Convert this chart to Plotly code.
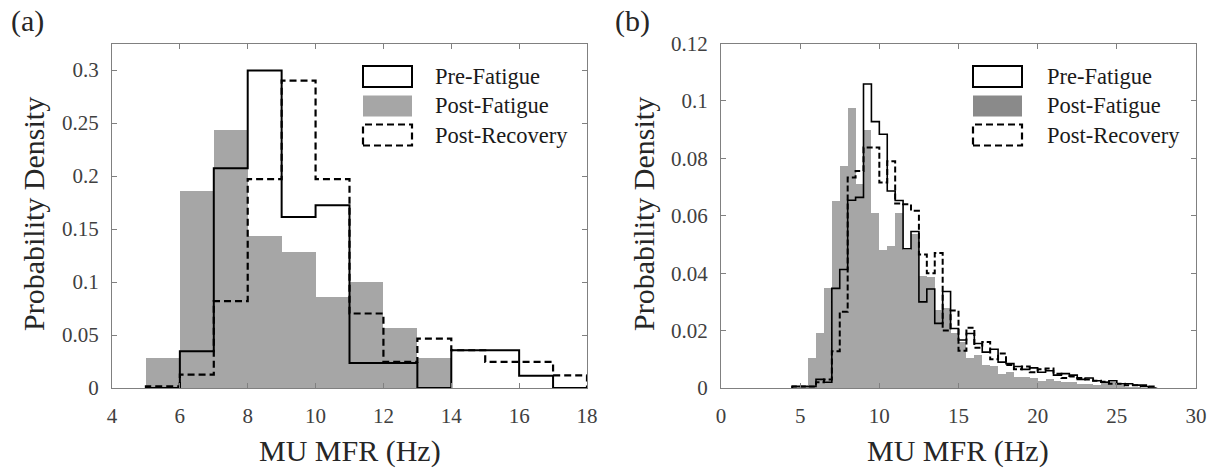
import numpy as np
import plotly.graph_objects as go

W, H = 1226, 473
FONT = "Liberation Serif"

# ---------------- data: panel (a) ----------------
a_edges = [5, 6, 7, 8, 9, 10, 11, 12, 13, 14, 15, 16, 17, 18]
a_pre = [0.0, 0.0346, 0.2072, 0.2995, 0.1614, 0.1725, 0.0236, 0.0236, 0.0, 0.0356, 0.0356, 0.0116, 0.0]
a_post = [0.0284, 0.186, 0.2434, 0.1434, 0.1283, 0.0861, 0.0999, 0.0568, 0.0284, 0.0, 0.0, 0.0, 0.0]
a_rec = [0.0016, 0.0126, 0.082, 0.197, 0.29, 0.197, 0.0703, 0.0246, 0.0466, 0.0356, 0.0246, 0.0246, 0.012]
a_xticks = [4, 6, 8, 10, 12, 14, 16, 18]
a_yticks = [0, 0.05, 0.1, 0.15, 0.2, 0.25, 0.3]
a_ylabels = ["0", "0.05", "0.1", "0.15", "0.2", "0.25", "0.3"]

# ---------------- data: panel (b) ----------------
b_first_edge = 4.5
b_bin_width = 0.5
b_pre = [0.0005, 0.0005, 0.0005, 0.003, 0.002, 0.0347, 0.0413, 0.0654, 0.0664, 0.1059,
         0.0928, 0.0884, 0.0686, 0.0653, 0.0485, 0.0545, 0.030, 0.0345, 0.0225, 0.0336,
         0.0207, 0.0167, 0.019, 0.0155, 0.0125, 0.0135, 0.009, 0.0085, 0.0075, 0.0065,
         0.007, 0.0055, 0.006, 0.0045, 0.005, 0.0045, 0.003, 0.0035, 0.0025, 0.002,
         0.0025, 0.0015, 0.0015, 0.001, 0.0005, 0.0]
b_post = [0.001, 0.001, 0.0103, 0.0193, 0.035, 0.065, 0.0772, 0.0976, 0.071, 0.0899,
          0.0609, 0.0482, 0.0495, 0.0609, 0.048, 0.0535, 0.039, 0.0385, 0.027, 0.028,
          0.019, 0.016, 0.0105, 0.0115, 0.008, 0.0075, 0.005, 0.0055, 0.004, 0.004,
          0.0035, 0.0025, 0.003, 0.0025, 0.002, 0.002, 0.0015, 0.0015, 0.001, 0.0025,
          0.0022, 0.001, 0.0005, 0.0005, 0.0, 0.0]
b_rec = [0.0005, 0.0005, 0.0005, 0.002, 0.003, 0.0128, 0.0266, 0.0733, 0.0756, 0.0838,
         0.0838, 0.0716, 0.079, 0.0643, 0.064, 0.0617, 0.0465, 0.040, 0.047, 0.02,
         0.027, 0.013, 0.021, 0.014, 0.016, 0.010, 0.012, 0.008, 0.0065, 0.0075,
         0.0055, 0.0065, 0.0068, 0.005, 0.0035, 0.004, 0.0035, 0.003, 0.0025, 0.0022,
         0.0015, 0.0015, 0.001, 0.001, 0.001, 0.0005]
b_xticks = [0, 5, 10, 15, 20, 25, 30]
b_yticks = [0, 0.02, 0.04, 0.06, 0.08, 0.1, 0.12]
b_ylabels = ["0", "0.02", "0.04", "0.06", "0.08", "0.1", "0.12"]

legend_names = ["Pre-Fatigue", "Post-Fatigue", "Post-Recovery"]

GRAY = "#a6a6a6"
AXC = "#808080"
TXT = "#404040"


def stairs(edges, vals):
    e = np.asarray(edges, dtype=float)
    v = np.asarray(vals, dtype=float)
    xs = np.concatenate([[e[0]], e[:-1], [e[-1]]])
    ys = np.concatenate([[0.0], v, [0.0]])
    return xs, ys


b_edges = b_first_edge + b_bin_width * np.arange(len(b_pre) + 1)

fig = go.Figure()

# panel (a)
ae = np.asarray(a_edges, dtype=float)
fig.add_trace(go.Bar(x=(ae[:-1] + ae[1:]) / 2, y=a_post, width=np.diff(ae),
                     marker=dict(color=GRAY, line=dict(width=0)),
                     xaxis="x", yaxis="y", showlegend=False))
xs, ys = stairs(a_edges, a_pre)
fig.add_trace(go.Scatter(x=xs, y=ys, mode="lines", line=dict(shape="hv", color="black", width=2),
                         xaxis="x", yaxis="y", showlegend=False))
xs, ys = stairs(a_edges, a_rec)
fig.add_trace(go.Scatter(x=xs, y=ys, mode="lines",
                         line=dict(shape="hv", color="black", width=2.2, dash="7px,4px"),
                         xaxis="x", yaxis="y", showlegend=False))

# panel (b)
fig.add_trace(go.Bar(x=(b_edges[:-1] + b_edges[1:]) / 2, y=b_post, width=np.diff(b_edges),
                     marker=dict(color=GRAY, line=dict(width=0)),
                     xaxis="x2", yaxis="y2", showlegend=False))
xs, ys = stairs(b_edges, b_pre)
fig.add_trace(go.Scatter(x=xs, y=ys, mode="lines", line=dict(shape="hv", color="black", width=1.6),
                         xaxis="x2", yaxis="y2", showlegend=False))
xs, ys = stairs(b_edges, b_rec)
fig.add_trace(go.Scatter(x=xs, y=ys, mode="lines",
                         line=dict(shape="hv", color="black", width=2, dash="6px,3px"),
                         xaxis="x2", yaxis="y2", showlegend=False))

# layout geometry (page pixels)
A_L, A_R = 112, 587
B_L, B_R = 721, 1196
TOP, BOT = 43.5, 388


def px(x):
    return x / W


def py(y):
    return 1 - y / H


axis_common = dict(showline=True, linecolor=AXC, linewidth=1, mirror="ticks",
                   ticks="inside", ticklen=5, tickcolor=AXC, tickwidth=1,
                   showgrid=False, zeroline=False, automargin=False,
                   tickfont=dict(family=FONT, size=21, color=TXT))

fig.update_layout(
    width=W, height=H, autosize=False,
    margin=dict(l=0, r=0, t=0, b=0, pad=0),
    paper_bgcolor="white", plot_bgcolor="white",
    bargap=0, barmode="overlay", hovermode=False,
    xaxis=dict(domain=[px(A_L), px(A_R)], range=[4, 18], tickvals=a_xticks,
               ticklabelstandoff=9, anchor="y", **axis_common),
    yaxis=dict(domain=[py(BOT), py(TOP)], range=[0, 0.325], tickvals=a_yticks,
               ticktext=a_ylabels, ticklabelstandoff=8, anchor="x", **axis_common),
    xaxis2=dict(domain=[px(B_L), px(B_R)], range=[0, 30], tickvals=b_xticks,
                ticklabelstandoff=9, anchor="y2", **axis_common),
    yaxis2=dict(domain=[py(BOT), py(TOP)], range=[0, 0.12], tickvals=b_yticks,
                ticktext=b_ylabels, ticklabelstandoff=8, anchor="x2", **axis_common),
)

annotations = []
shapes = []

# axis titles and panel labels
for cx in [(A_L + A_R) / 2, (B_L + B_R) / 2]:
    annotations.append(dict(text="MU MFR (Hz)", x=px(cx), y=py(451), xref="paper", yref="paper",
                            showarrow=False, xanchor="center", yanchor="middle",
                            font=dict(family=FONT, size=30, color="#262626")))
for cx in [33, 643]:
    annotations.append(dict(text="Probability Density", x=px(cx), y=py(214), xref="paper",
                            yref="paper", showarrow=False, textangle=-90,
                            xanchor="center", yanchor="middle",
                            font=dict(family=FONT, size=30, color="#262626")))
for lab, cx in [("(a)", 27), ("(b)", 632)]:
    annotations.append(dict(text=lab, x=px(cx), y=py(21), xref="paper", yref="paper",
                            showarrow=False, xanchor="center", yanchor="middle",
                            font=dict(family=FONT, size=30, color="#262626")))

# legends drawn as patches + text
row_tops = [66, 95.5, 124.5]
patch_h = 21
for patch_l, text_l, post_col in [(363, 433, GRAY), (973, 1045, "#8a8a8a")]:
    patch_r = patch_l + 49
    styles = [
        dict(line=dict(color="black", width=2), fillcolor="white"),
        dict(line=dict(width=0), fillcolor=post_col),
        dict(line=dict(color="black", width=2.2, dash="7px,4px"), fillcolor="white"),
    ]
    for name, top, st in zip(legend_names, row_tops, styles):
        shapes.append(dict(type="rect", xref="paper", yref="paper",
                           x0=px(patch_l), x1=px(patch_r), y0=py(top + patch_h), y1=py(top),
                           **st))
        annotations.append(dict(text=name, x=px(text_l), y=py(top + patch_h / 2),
                                xref="paper", yref="paper", showarrow=False,
                                xanchor="left", yanchor="middle",
                                font=dict(family=FONT, size=22.5, color="#1a1a1a")))

fig.update_layout(annotations=annotations, shapes=shapes)

fig.write_html("out.html", config={"displayModeBar": False, "staticPlot": True},
               post_script="document.body.style.margin='0';document.body.style.overflow='hidden';")
